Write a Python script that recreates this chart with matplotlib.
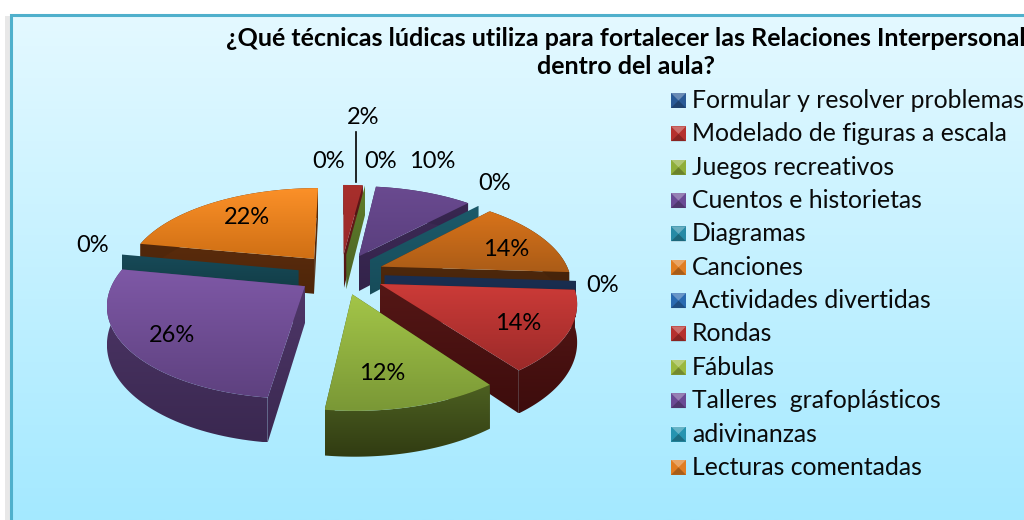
import numpy as np
import matplotlib
matplotlib.use('Agg')
import matplotlib.pyplot as plt
from matplotlib.colors import LinearSegmentedColormap
from matplotlib.patches import Polygon, Rectangle

plt.rcParams['font.family'] = ['Lato', 'DejaVu Sans']

title = '¿Qué técnicas lúdicas utiliza para fortalecer las Relaciones Interpersonal\ndentro del aula?'
labels = ['Formular y resolver problemas', 'Modelado de figuras a escala',
          'Juegos recreativos', 'Cuentos e historietas', 'Diagramas', 'Canciones',
          'Actividades divertidas', 'Rondas', 'Fábulas', 'Talleres  grafoplásticos',
          'adivinanzas', 'Lecturas comentadas']
values = [0, 2, 0, 10, 0, 14, 0, 14, 12, 26, 0, 22]

# top face light, top face dark, wall light, wall dark
slice_colors = [('#1f3f6e', '#1f3f6e', '#1a2f52', '#152642'),
                ('#a82f2c', '#98292a', '#6e1b1a', '#4f1514'),
                ('#6f8f30', '#5f7d2a', '#5f7d2a', '#4c6424'),
                ('#6a4a90', '#5a3f7e', '#3d2a56', '#33234a'),
                ('#1f6070', '#1f6070', '#1c5a6a', '#174c5a'),
                ('#d8731a', '#ab5c17', '#4e280c', '#43220a'),
                ('#1d3557', '#1d3557', '#1a2f52', '#162845'),
                ('#cc3b38', '#9c2a29', '#551716', '#3d0c0c'),
                ('#a3c548', '#7a9836', '#4c5f21', '#313c12'),
                ('#7e58a6', '#5e417f', '#4f3769', '#3a2850'),
                ('#174a58', '#174a58', '#174a58', '#10373f'),
                ('#fb9028', '#cf6f14', '#5a2b0c', '#4e260a')]
legend_colors = ['#2a5a96', '#b5312e', '#8fae3a', '#6a4a94', '#268aa5', '#e07d22',
                 '#2a6ab0', '#b5312e', '#9ab83f', '#6a4a94', '#2694b0', '#e07d22']

label_text = ['0%', '2%', '0%', '10%', '0%', '14%', '0%', '14%', '12%', '26%', '0%', '22%']
label_xy = [(329, 161), (363, 117), (381, 162), (432, 162), (495, 184), (506, 249),
            (603, 286), (518, 324), (382, 374), (172, 335), (93, 245), (247, 217)]

CX, CY = 341, 274
RX, RY = 189, 88
PERSP = 0.175
EXPLODE = 0.23
HEIGHT = 36


def project(u, v, depth=0):
    s = 1 / (1 - PERSP * np.asarray(v))
    return np.column_stack([CX + RX * np.asarray(u) * s,
                            CY + RY * np.asarray(v) * s + depth * s])


def grad_poly(ax, pts, top, bottom, z):
    # vertical gradient clipped to a polygon
    cmap = LinearSegmentedColormap.from_list('g', [top, bottom])
    x0, y0 = pts.min(axis=0)
    x1, y1 = pts.max(axis=0)
    im = ax.imshow(np.linspace(0, 1, 64).reshape(-1, 1), cmap=cmap, aspect='auto',
                   extent=(x0, x1, y1, y0), zorder=z, interpolation='bilinear')
    patch = Polygon(pts, closed=True, transform=ax.transData, fc='none', ec='none')
    ax.add_patch(patch)
    im.set_clip_path(patch)


fig = plt.figure(figsize=(10.24, 5.2), dpi=100)
ax = fig.add_axes([0, 0, 1, 1])

# background panel
bg = LinearSegmentedColormap.from_list('bg', ['#e4f9ff', '#c4f1ff', '#a4e9ff'])
ax.imshow(np.linspace(0, 1, 256).reshape(-1, 1), cmap=bg, aspect='auto',
          extent=(11, 1024, 520, 14), zorder=0)
ax.add_patch(Rectangle((5, 16), 6, 504, fc='#e8e8e8', ec='none', zorder=0))
ax.plot([11, 11, 1024], [520, 14.5, 14.5], color='#4fb0cc', lw=2.2, zorder=1,
        solid_joinstyle='miter')

# slices, far ones first
fracs = np.array(values) / sum(values) * 2 * np.pi
starts = np.concatenate([[0], np.cumsum(fracs)[:-1]])
mids = starts + fracs / 2
order = sorted(range(len(values)), key=lambda i: -np.cos(mids[i]))

z = 10
for i in order:
    t0 = starts[i]
    t1 = starts[i] + fracs[i]
    ctop, cbot, wtop, wbot = slice_colors[i]
    ox = EXPLODE * np.sin(mids[i])
    oy = -EXPLODE * np.cos(mids[i])
    if values[i] == 0:
        # empty category, only the side wall shows
        us = np.array([ox, ox + np.sin(t0)])
        vs = np.array([oy, oy - np.cos(t0)])
        wall = np.vstack([project(us, vs), project(us[::-1], vs[::-1], HEIGHT)])
        grad_poly(ax, wall, wtop, wbot, z)
        z += 1
        continue
    tt = np.linspace(t0, t1, 60)
    us = ox + np.sin(tt)
    vs = oy - np.cos(tt)
    # radial walls
    for t in sorted([t0, t1], key=lambda a: -np.cos(a)):
        ru = np.array([ox, ox + np.sin(t)])
        rv = np.array([oy, oy - np.cos(t)])
        wall = np.vstack([project(ru, rv), project(ru[::-1], rv[::-1], HEIGHT)])
        grad_poly(ax, wall, wtop, wbot, z)
        z += 1
    # outer band
    band = np.vstack([project(us, vs), project(us[::-1], vs[::-1], HEIGHT)])
    grad_poly(ax, band, wtop, wbot, z)
    z += 1
    # top face
    face = np.vstack([project([ox], [oy]), project(us, vs)])
    grad_poly(ax, face, ctop, cbot, z)
    z += 1

# data labels
for txt, (x, y) in zip(label_text, label_xy):
    ax.text(x, y, txt, ha='center', va='center', fontsize=17, color='black', zorder=500)
ax.plot([356, 356], [132, 182], color='black', lw=1.2, zorder=400)

# title
ax.text(626, 52.5, title, ha='center', va='center', fontsize=18, fontweight='bold',
        color='black', linespacing=1.28, zorder=500, clip_on=True)

# legend
for i, lab in enumerate(labels):
    y = 100.5 + i * 33.35
    c = legend_colors[i]
    ax.add_patch(Rectangle((671, y - 7.5), 15, 15, fc=c, ec='none', zorder=500))
    ax.add_patch(Polygon([(671, y - 7.5), (686, y - 7.5), (678.5, y)], closed=True,
                         fc='white', alpha=0.3, ec='none', zorder=501))
    ax.add_patch(Polygon([(671, y + 7.5), (686, y + 7.5), (678.5, y)], closed=True,
                         fc='black', alpha=0.25, ec='none', zorder=501))
    ax.text(692, y, lab, ha='left', va='center', fontsize=17.8, color='#0a0a0a', zorder=500)

ax.set_xlim(0, 1024)
ax.set_ylim(520, 0)
ax.axis('off')
fig.savefig('out.png', dpi=100, facecolor='white')
